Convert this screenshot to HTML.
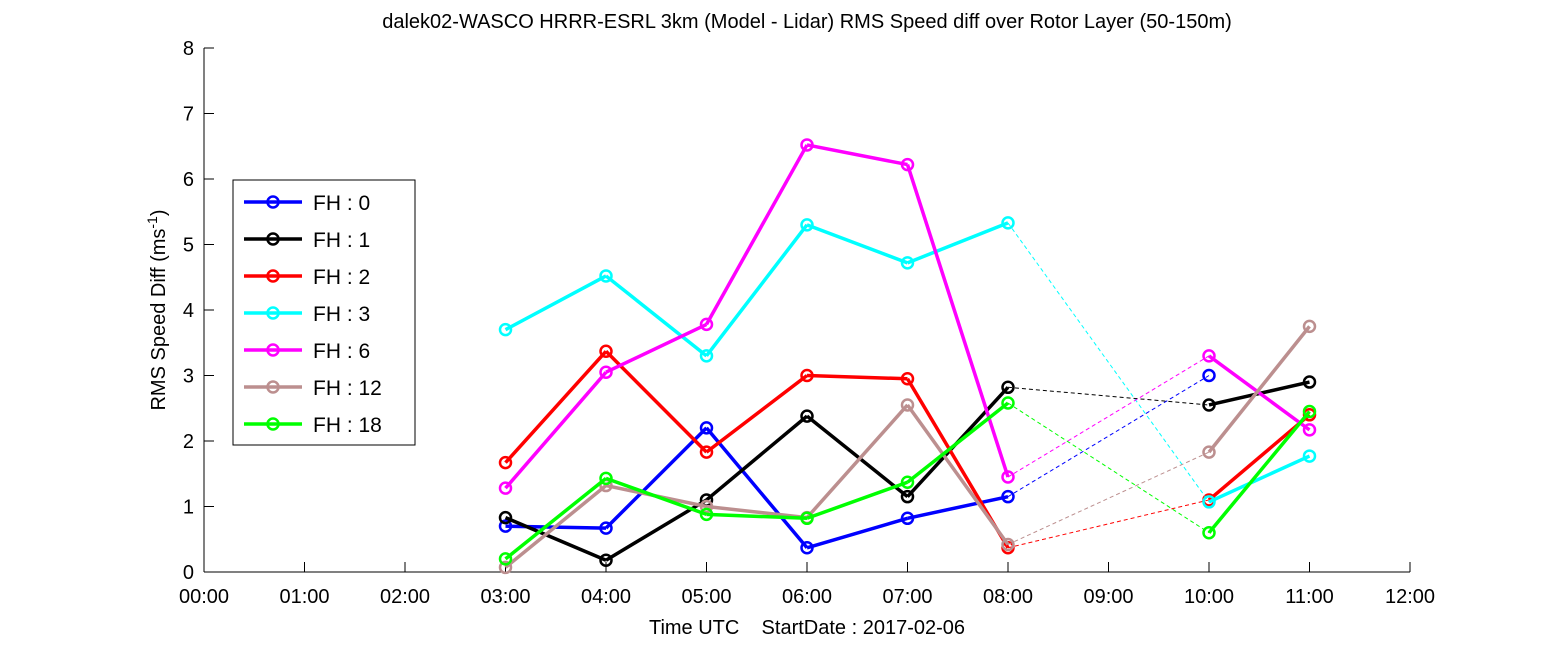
<!DOCTYPE html>
<html><head><meta charset="utf-8"><style>
body{margin:0;background:#fff;}
svg{display:block;font-family:"Liberation Sans",Arial,sans-serif;}
</style></head><body>
<svg id="chart" width="1559" height="656" viewBox="0 0 1559 656" xmlns="http://www.w3.org/2000/svg">
<rect width="1559" height="656" fill="#fff"/>
<text x="807" y="28" font-size="20" text-anchor="middle">dalek02-WASCO HRRR-ESRL 3km (Model - Lidar) RMS Speed diff over Rotor Layer (50-150m)</text>
<g id="axes"></g>
<g id="series"></g>
<g id="legend"></g>
<text x="807" y="634" font-size="20" text-anchor="middle">Time UTC&#160;&#160;&#160;&#160;StartDate : 2017-02-06</text>
<text transform="translate(165,310) rotate(-90)" font-size="20" text-anchor="middle">RMS Speed Diff (ms<tspan baseline-shift="super" font-size="14">-1</tspan>)</text>
</svg>
<script>
const hours = [3,4,5,6,7,8,10,11];
const xTickLabels = ["00:00","01:00","02:00","03:00","04:00","05:00","06:00","07:00","08:00","09:00","10:00","11:00","12:00"];
const yTickLabels = ["0","1","2","3","4","5","6","7","8"];
const seriesNames = ["FH : 0","FH : 1","FH : 2","FH : 3","FH : 6","FH : 12","FH : 18"];
const seriesColors = ["#0000ff","#000000","#ff0000","#00ffff","#ff00ff","#bc8f8f","#00ff00"];
const fh0 = [0.7,0.67,2.2,0.37,0.82,1.15,3.0,null];
const fh1 = [0.83,0.18,1.1,2.38,1.15,2.82,2.55,2.9];
const fh2 = [1.67,3.37,1.83,3.0,2.95,0.37,1.1,2.4];
const fh3 = [3.7,4.52,3.3,5.3,4.72,5.33,1.07,1.77];
const fh6 = [1.28,3.05,3.78,6.52,6.22,1.45,3.3,2.17];
const fh12 = [0.07,1.32,1.0,0.83,2.55,0.42,1.83,3.75];
const fh18 = [0.2,1.43,0.88,0.82,1.37,2.58,0.6,2.45];
const allSeries = [fh0,fh1,fh2,fh3,fh6,fh12,fh18];

const NS="http://www.w3.org/2000/svg";
const L=204,R=1410,T=48,B=572;
const x = h => L + (R-L)*h/12;
const y = v => B - (B-T)*v/8;
function mk(tag,attrs,parent){const e=document.createElementNS(NS,tag);for(const k in attrs)e.setAttribute(k,attrs[k]);parent.appendChild(e);return e;}
const axes=document.getElementById('axes');
let a=mk('line',{x1:L,y1:B,x2:R,y2:B,stroke:'#000'},axes);


a=mk('line',{x1:L,y1:T,x2:L,y2:B,stroke:'#000'},axes);


xTickLabels.forEach((lab,i)=>{
  const px=x(i);
  const t=mk('line',{x1:px,y1:B,x2:px,y2:B-10,stroke:'#000'},axes);
  
  
  const tx=mk('text',{x:px,y:B+31,'font-size':20,'text-anchor':'middle'},axes);
  tx.textContent=lab;
  
  
});
yTickLabels.forEach((lab,i)=>{
  const py=y(i);
  const t=mk('line',{x1:L,y1:py,x2:L+10,y2:py,stroke:'#000'},axes);
  
  
  const tx=mk('text',{x:L-10,y:py+7,'font-size':20,'text-anchor':'end'},axes);
  tx.textContent=lab;
  
  
});
const sg=document.getElementById('series');
allSeries.forEach((vals,si)=>{
  const col=seriesColors[si];
  const g=mk('g',{},sg);
  
  
  for(let i=0;i<vals.length-1;i++){
    if(vals[i]==null||vals[i+1]==null)continue;
    const gap=hours[i+1]-hours[i]>1;
    const ln=mk('line',{x1:x(hours[i]),y1:y(vals[i]),x2:x(hours[i+1]),y2:y(vals[i+1]),stroke:col,'stroke-width':gap?1:3.5},g);
    if(gap)ln.setAttribute('stroke-dasharray','4,3');
    
    
  }
  vals.forEach((v,i)=>{
    if(v==null)return;
    const c=mk('circle',{cx:x(hours[i]),cy:y(v),r:5.5,fill:'none',stroke:col,'stroke-width':2.5},g);
    
    
  });
});
const lg=document.getElementById('legend');
const box=mk('rect',{x:233,y:180,width:182,height:265,fill:'#fff',stroke:'#000'},lg);


seriesNames.forEach((n,i)=>{
  const py=202+i*37;
  const g=mk('g',{},lg);
  
  
  mk('line',{x1:244,y1:py,x2:302,y2:py,stroke:seriesColors[i],'stroke-width':3.5},g);
  mk('circle',{cx:273,cy:py,r:5.5,fill:'none',stroke:seriesColors[i],'stroke-width':2.5},g);
  const t=mk('text',{x:313,y:py+8,'font-size':21},g);
  t.textContent=n;
});
</script>
</body></html>
